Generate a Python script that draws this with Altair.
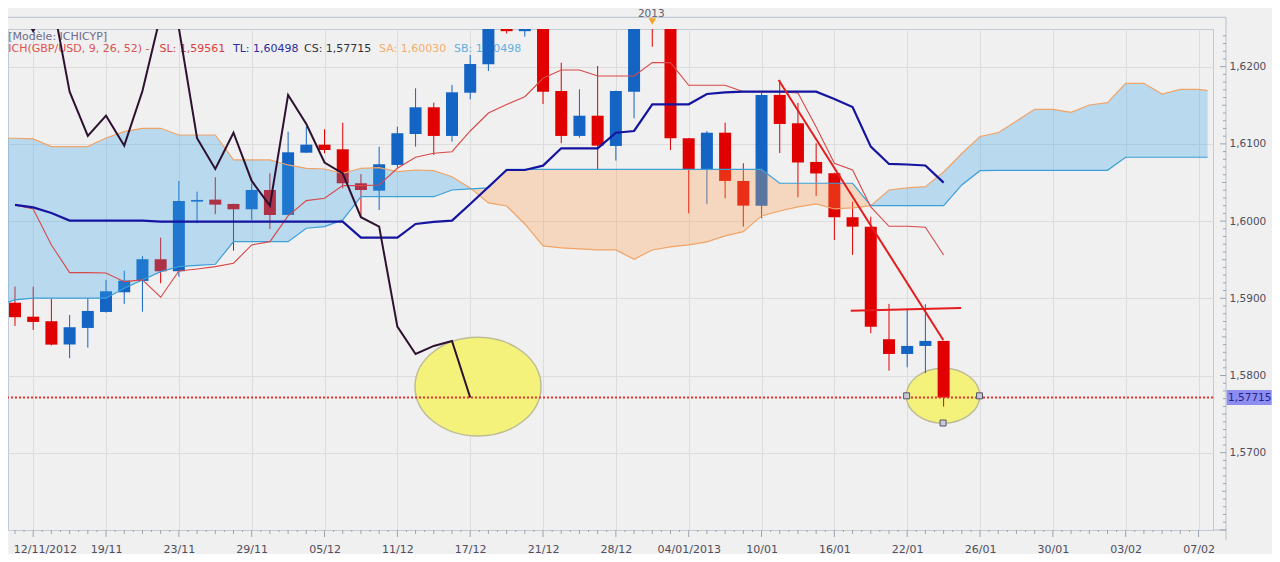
import altair as alt
import pandas as pd
import numpy as np

# ---------------- data ----------------
opens = [1.58943, 1.58762, 1.58703, 1.58400, 1.58616, 1.58823, 1.59078, 1.59225, 1.59506, 1.59350,
         1.60252, 1.60278, 1.60222, 1.60153, 1.60403, 1.60080, 1.60886, 1.60990, 1.60930, 1.60490,
         1.60394, 1.60727, 1.61128, 1.61474, 1.61103, 1.61663, 1.62031, 1.62880, 1.62460, 1.62920,
         1.61685, 1.61103, 1.61365, 1.60973, 1.61676, 1.62680, 1.62520, 1.61073, 1.60675, 1.61145,
         1.60520, 1.60200, 1.61634, 1.61267, 1.60766, 1.60620, 1.60050, 1.59928, 1.58470, 1.58279,
         1.58383, 1.58448]
highs = [1.59151, 1.59151, 1.58996, 1.58784, 1.59001, 1.59238, 1.59358, 1.59549, 1.59786, 1.60520,
         1.60381, 1.60568, 1.60225, 1.60490, 1.60620, 1.61158, 1.61223, 1.61189, 1.61275, 1.60610,
         1.60964, 1.61223, 1.61720, 1.61534, 1.61763, 1.62152, 1.62920, 1.62950, 1.63000, 1.63020,
         1.62052, 1.61707, 1.62009, 1.61690, 1.62750, 1.62760, 1.62580, 1.61075, 1.61167, 1.61275,
         1.60749, 1.61659, 1.61828, 1.61530, 1.61008, 1.60625, 1.60252, 1.60057, 1.58927, 1.58849,
         1.58923, 1.58450]
lows = [1.58642, 1.58590, 1.58390, 1.58224, 1.58361, 1.58815, 1.58927, 1.58827, 1.59195, 1.59280,
        1.59972, 1.60089, 1.59617, 1.60015, 1.59898, 1.60075, 1.60882, 1.60879, 1.60425, 1.60057,
        1.60144, 1.60692, 1.60964, 1.60857, 1.61029, 1.61578, 1.61944, 1.62430, 1.62389, 1.61517,
        1.61008, 1.61080, 1.60671, 1.60783, 1.61332, 1.62259, 1.60921, 1.60101, 1.60222, 1.60296,
        1.59928, 1.60037, 1.60882, 1.60309, 1.60326, 1.59756, 1.59562, 1.58547, 1.58063, 1.58107,
        1.58030, 1.57597]
closes = [1.58755, 1.58694, 1.58400, 1.58625, 1.58836, 1.59091, 1.59229, 1.59506, 1.59350, 1.60261,
          1.60274, 1.60213, 1.60153, 1.60403, 1.60080, 1.60891, 1.60990, 1.60921, 1.60490, 1.60403,
          1.60736, 1.61138, 1.61474, 1.61103, 1.61668, 1.62035, 1.62864, 1.62460, 1.62930, 1.61676,
          1.61103, 1.61365, 1.60977, 1.61685, 1.62670, 1.62500, 1.61073, 1.60675, 1.61145, 1.60520,
          1.60200, 1.61634, 1.61258, 1.60759, 1.60617, 1.60050, 1.59928, 1.58633, 1.58279, 1.58383,
          1.58448, 1.57715]

tenkan = [1.60209, 1.60177, 1.60105, 1.60006, 1.60006, 1.60006, 1.60006, 1.60006, 1.59993, 1.59993,
          1.59993, 1.59993, 1.59993, 1.59993, 1.59993, 1.59993, 1.59993, 1.59993, 1.59993, 1.59786,
          1.59786, 1.59786, 1.59963, 1.59989, 1.60006, 1.60222, 1.60442, 1.60662, 1.60662, 1.60718,
          1.60943, 1.60943, 1.60943, 1.61145, 1.61167, 1.61513, 1.61513, 1.61513, 1.61646, 1.61666,
          1.61676, 1.61676, 1.61676, 1.61676, 1.61676, 1.61582, 1.61478, 1.60964, 1.60740, 1.60733,
          1.60720, 1.60498]
kijun = [1.60209, 1.60157, 1.59691, 1.59332, 1.59332, 1.59328, 1.59216, 1.59238, 1.59014, 1.59354,
         1.59380, 1.59410, 1.59454, 1.59691, 1.59734, 1.60067, 1.60265, 1.60296, 1.60459, 1.60459,
         1.60468, 1.60684, 1.60827, 1.60879, 1.60899, 1.61167, 1.61400, 1.61510, 1.61611, 1.61850,
         1.61957, 1.61957, 1.61880, 1.61880, 1.61880, 1.62052, 1.62052, 1.61759, 1.61759, 1.61759,
         1.61676, 1.61676, 1.61676, 1.61659, 1.61219, 1.60749, 1.60662, 1.60183, 1.59933, 1.59933,
         1.59920, 1.59561]
senkou_a = [1.61073, 1.61064, 1.60964, 1.60964, 1.60964, 1.61077, 1.61158, 1.61202, 1.61202, 1.61115,
            1.61115, 1.61115, 1.60792, 1.60792, 1.60792, 1.60727, 1.60684, 1.60675, 1.60619, 1.60684,
            1.60692, 1.60640, 1.60662, 1.60653, 1.60575, 1.60429, 1.60235, 1.60196, 1.59963, 1.59678,
            1.59652, 1.59639, 1.59626, 1.59626, 1.59506, 1.59626, 1.59665, 1.59691, 1.59730, 1.59808,
            1.59863, 1.60067, 1.60131, 1.60183, 1.60222, 1.60157, 1.60170, 1.60200, 1.60403, 1.60429,
            1.60446, 1.60636, 1.60876, 1.61096, 1.61145, 1.61297, 1.61448, 1.61448, 1.61409, 1.61504,
            1.61534, 1.61785, 1.61785, 1.61646, 1.61707, 1.61707]
senkou_b = [1.58979, 1.59001, 1.59001, 1.59001, 1.59001, 1.59001, 1.59130, 1.59238, 1.59345, 1.59410,
            1.59426, 1.59441, 1.59734, 1.59734, 1.59734, 1.59734, 1.59907, 1.59928, 1.60015, 1.60316,
            1.60316, 1.60316, 1.60316, 1.60316, 1.60403, 1.60416, 1.60429, 1.60671, 1.60671, 1.60671,
            1.60671, 1.60671, 1.60671, 1.60671, 1.60671, 1.60671, 1.60671, 1.60671, 1.60671, 1.60671,
            1.60671, 1.60671, 1.60490, 1.60490, 1.60490, 1.60490, 1.60490, 1.60200, 1.60200, 1.60200,
            1.60200, 1.60200, 1.60468, 1.60653, 1.60658, 1.60658, 1.60658, 1.60658, 1.60658, 1.60658,
            1.60658, 1.60827, 1.60827, 1.60827, 1.60827, 1.60827]
cloud_edge_x = [-0.6, 65.5]
cloud_edge_a = [1.61073, 1.61689]
cloud_edge_b = [1.58936, 1.60827]
chikou_shift = 26

x_tick_labels = ["12/11/2012", "19/11", "23/11", "29/11", "05/12", "11/12", "17/12", "21/12", "28/12",
                 "04/01/2013", "10/01", "16/01", "22/01", "26/01", "30/01", "03/02", "07/02"]
y_tick_values = [1.57, 1.58, 1.59, 1.60, 1.61, 1.62]
last_price = 1.57715
year_marker_idx = [35]
year_label = "2013"

trend_x = [41.94, 50.98]
trend_y = [1.61828, 1.58460]
level_x = [45.9, 51.96]
level_y = [1.58839, 1.58874]
ellipse_x = [25.43, 50.97]
ellipse_y = [1.57856, 1.57738]
handle_x = [48.97, 52.97, 50.97]
handle_y = [1.57737, 1.57737, 1.57385]

legend_line1 = "[Modèle: ICHICYP]"
legend_parts = ["ICH(GBP/USD, 9, 26, 52) -", "SL: 1,59561", "TL: 1,60498", "CS: 1,57715",
                "SA: 1,60030", "SB: 1,60498"]

# ---------------- build tables ----------------
n = len(closes)
cdf = pd.DataFrame({"idx": list(range(n)), "open": opens, "high": highs, "low": lows, "close": closes})
cdf["dir"] = np.where(cdf["close"] >= cdf["open"], "up", "down")
cdf["blo"] = cdf[["open", "close"]].min(axis=1)
cdf["bhi"] = cdf[["open", "close"]].max(axis=1)

lines_df = pd.DataFrame({"idx": list(range(n)), "tenkan": tenkan, "kijun": kijun})
chikou_df = pd.DataFrame({"idx": list(range(n - chikou_shift)), "v": closes[chikou_shift:]})

cx = [cloud_edge_x[0]] + list(range(len(senkou_a))) + [cloud_edge_x[1]]
ca = [cloud_edge_a[0]] + senkou_a + [cloud_edge_a[1]]
cb = [cloud_edge_b[0]] + senkou_b + [cloud_edge_b[1]]
rows = []
for i in range(len(cx)):
    if i > 0:
        d0 = ca[i - 1] - cb[i - 1]
        d1 = ca[i] - cb[i]
        if d0 * d1 < 0:
            t = d0 / (d0 - d1)
            xm = cx[i - 1] + t * (cx[i] - cx[i - 1])
            ym = ca[i - 1] + t * (ca[i] - ca[i - 1])
            rows.append((xm, ym, ym))
    rows.append((cx[i], ca[i], cb[i]))
cloud = pd.DataFrame(rows, columns=["x", "a", "b"])
cloud["top"] = cloud[["a", "b"]].max(axis=1)

W, H = 1205, 501

xs = alt.Scale(domain=[-0.109, 65.52], nice=False, zero=False)
ys = alt.Scale(domain=[1.55999, 1.62488], nice=False, zero=False)

label_arr = "[" + ",".join("'%s'" % s for s in x_tick_labels) + "]"
xaxis = alt.Axis(
    values=[1 + 4 * k for k in range(len(x_tick_labels))],
    labelExpr=label_arr + "[round((datum.value-1)/4)]",
    ticks=False, domain=False, grid=True, gridColor="#dcdcdc", gridWidth=1,
    labelPadding=13, labelFont="DejaVu Sans", labelFontSize=11, labelColor="#4e4e5e",
    labelAlign={"condition": {"test": "datum.value == 1", "value": "left"}, "value": "center"},
    labelOffset={"condition": {"test": "datum.value == 1", "value": -20}, "value": 0},
    labelFlush=False, labelOverlap=False, title=None,
)
yaxis = alt.Axis(
    orient="right", values=y_tick_values,
    labelExpr="replace(format(datum.value, '.4f'), '.', ',')",
    ticks=False, domain=False, grid=True, gridColor="#dcdcdc", gridWidth=1,
    labelPadding=16, labelFont="DejaVu Sans", labelFontSize=10.5, labelColor="#4e4e5e",
    title=None,
)


def X(f):
    return alt.X(f + ":Q", scale=xs, axis=xaxis, title=None)


def Y(f):
    return alt.Y(f + ":Q", scale=ys, axis=yaxis, title=None)


cscale = alt.Scale(domain=["up", "down"], range=["#1464c4", "#e00000"])

one = pd.DataFrame({"k": [0]})

# ellipses (custom symbol paths)
ell1 = alt.Chart(pd.DataFrame({"x": ellipse_x[:1], "y": ellipse_y[:1]})).mark_point(
    shape="M -1 0 A 1 0.783 0 1 0 1 0 A 1 0.783 0 1 0 -1 0 Z", size=126 * 126, filled=True,
    fill="#f5f27c", stroke="#bdbd95", strokeWidth=1.5, opacity=1, clip=True
).encode(x=X("x"), y=Y("y"))
ell2 = alt.Chart(pd.DataFrame({"x": ellipse_x[1:], "y": ellipse_y[1:]})).mark_point(
    shape="M -1 0 A 1 0.75 0 1 0 1 0 A 1 0.75 0 1 0 -1 0 Z", size=73.4 * 73.4, filled=True,
    fill="#f5f27c", stroke="#bdbd95", strokeWidth=1.5, opacity=1, clip=True
).encode(x=X("x"), y=Y("y"))

# legend texts
leg_colors = ["#e05050", "#d84040", "#2e2e9e", "#30303e", "#f3ae6e", "#62b0e2"]
leg_x = [0.3, 151.5, 225, 296, 371, 446]
legend_layers = [
    alt.Chart(pd.DataFrame({"t": [legend_line1]})).mark_text(
        align="left", baseline="middle", font="DejaVu Sans", fontSize=11, color="#6d6d8a"
    ).encode(text="t:N", x=alt.value(0.3), y=alt.value(7.5))
]
for txt, col, px in zip(legend_parts, leg_colors, leg_x):
    legend_layers.append(
        alt.Chart(pd.DataFrame({"t": [txt]})).mark_text(
            align="left", baseline="middle", font="DejaVu Sans", fontSize=11, color=col
        ).encode(text="t:N", x=alt.value(px), y=alt.value(20.3))
    )

wicks = alt.Chart(cdf).mark_rule(strokeWidth=1, clip=True).encode(
    x=X("idx"), y=Y("low"), y2="high", color=alt.Color("dir:N", scale=cscale, legend=None))
bodies = alt.Chart(cdf).mark_bar(size=12, clip=True).encode(
    x=X("idx"), y=Y("blo"), y2="bhi", color=alt.Color("dir:N", scale=cscale, legend=None))

blue_area = alt.Chart(cloud).mark_area(color="#3aa6ec", opacity=0.3, clip=True).encode(
    x=X("x"), y=Y("b"), y2="top")
peach_area = alt.Chart(cloud).mark_area(color="#ffa04b", opacity=0.3, clip=True).encode(
    x=X("x"), y=Y("a"), y2="top")
sa_line = alt.Chart(cloud).mark_line(color="#f0a468", strokeWidth=1.2, clip=True).encode(
    x=X("x"), y=Y("a"))
sb_line = alt.Chart(cloud).mark_line(color="#3c9fd8", strokeWidth=1.2, clip=True).encode(
    x=X("x"), y=Y("b"))

kijun_line = alt.Chart(lines_df).mark_line(color="#d84848", strokeWidth=1.1, clip=True).encode(
    x=X("idx"), y=Y("kijun"))
tenkan_line = alt.Chart(lines_df).mark_line(color="#1414a0", strokeWidth=2.2, clip=True).encode(
    x=X("idx"), y=Y("tenkan"))
chikou_line = alt.Chart(chikou_df).mark_line(color="#2e1030", strokeWidth=2, clip=True).encode(
    x=X("idx"), y=Y("v"))

trend = alt.Chart(pd.DataFrame({"x": trend_x, "y": trend_y})).mark_line(
    color="#e41c1c", strokeWidth=2, clip=True).encode(x=X("x"), y=Y("y"))
level = alt.Chart(pd.DataFrame({"x": level_x, "y": level_y})).mark_line(
    color="#e41c1c", strokeWidth=2, clip=True).encode(x=X("x"), y=Y("y"))

price_df = pd.DataFrame({"v": [last_price], "t": [format(last_price, ".5f").replace(".", ",")]})
dotted = alt.Chart(price_df).mark_rule(color="#e23232", strokeWidth=2, strokeDash=[2, 2]).encode(
    y=Y("v"))

handles = alt.Chart(pd.DataFrame({"x": handle_x, "y": handle_y})).mark_point(
    shape="square", size=36, filled=True, fill="#c8c8d8", stroke="#555566", strokeWidth=1, opacity=1
).encode(x=X("x"), y=Y("y"))

yr = pd.DataFrame({"idx": year_marker_idx, "t": [year_label]})
year_text = alt.Chart(yr).mark_text(
    align="center", baseline="alphabetic", font="DejaVu Sans", fontSize=10.5, color="#5a5a6a", dx=-1
).encode(x=X("idx"), y=alt.value(-12.5), text="t:N")
year_tri = alt.Chart(yr).mark_point(
    shape="triangle-down", size=55, filled=True, color="#f5a423", opacity=1
).encode(x=X("idx"), y=alt.value(-7.5))

frame_col = "#b4bfcc"
strip_line = alt.Chart(one).mark_rule(color=frame_col, strokeWidth=1).encode(
    x=alt.value(0), x2=alt.value(W + 13), y=alt.value(-11.7))
yaxis_line = alt.Chart(one).mark_rule(color=frame_col, strokeWidth=1).encode(
    x=alt.value(W + 13), y=alt.value(-11.7), y2=alt.value(H + 10))
xaxis_ext = alt.Chart(one).mark_rule(color=frame_col, strokeWidth=1).encode(
    x=alt.value(W), x2=alt.value(W + 13), y=alt.value(H))

# axis ticks
yt = pd.DataFrame({"v": np.round(np.arange(1560, 1625) / 1000.0, 3)})
yt["kind"] = np.where(np.isclose((yt["v"] * 100) % 1, 0) | np.isclose((yt["v"] * 100) % 1, 1), "major",
                      np.where(np.isclose((yt["v"] * 200) % 1, 0) | np.isclose((yt["v"] * 200) % 1, 1),
                               "mid", "minor"))
ytick_layers = []
for kind, x0 in [("major", W + 7), ("mid", W + 9), ("minor", W + 10)]:
    ytick_layers.append(
        alt.Chart(yt).transform_filter(alt.datum.kind == kind).mark_rule(color="#9aa4b0", strokeWidth=1)
        .encode(x=alt.value(x0), x2=alt.value(W + 13), y=Y("v")))

xt = pd.DataFrame({"idx": np.arange(0, 131) / 2.0})
xt["kind"] = np.where((xt["idx"] % 1) != 0, "half", np.where((xt["idx"] % 4) == 1, "major", "int"))
xtick_layers = []
for kind, ln in [("major", 7), ("int", 4), ("half", 2)]:
    xtick_layers.append(
        alt.Chart(xt).transform_filter(alt.datum.kind == kind).mark_rule(color="#9aa4b0", strokeWidth=1)
        .encode(x=X("idx"), y=alt.value(H), y2=alt.value(H + ln)))

tag_rect = alt.Chart(price_df).mark_rect(color="#8d8df0", yOffset=-7.5, y2Offset=7.5).encode(
    x=alt.value(W + 13.7), x2=alt.value(W + 58.7), y=Y("v"), y2="v")
tag_text = alt.Chart(price_df).mark_text(
    align="left", baseline="middle", font="DejaVu Sans", fontSize=10.5, color="#23238c"
).encode(x=alt.value(W + 15), y=Y("v"), text="t:N")

layers = [ell1, ell2] + legend_layers + [
    wicks, bodies, blue_area, peach_area, sa_line, sb_line, kijun_line, tenkan_line, chikou_line,
    trend, level, dotted, handles, year_text, year_tri, strip_line, yaxis_line, xaxis_ext,
] + ytick_layers + xtick_layers + [tag_rect, tag_text]

chart = alt.layer(*layers).properties(
    width=W, height=H,
    padding={"left": 0, "top": 21, "right": 59, "bottom": 24},
    autosize=alt.AutoSizeParams(type="none"),
    background="#f0f0f0",
).configure_view(stroke="#c2cad4", strokeWidth=1, fill="#f0f0f0")

chart.save("out.html", embed_options={"renderer": "svg", "actions": False})
